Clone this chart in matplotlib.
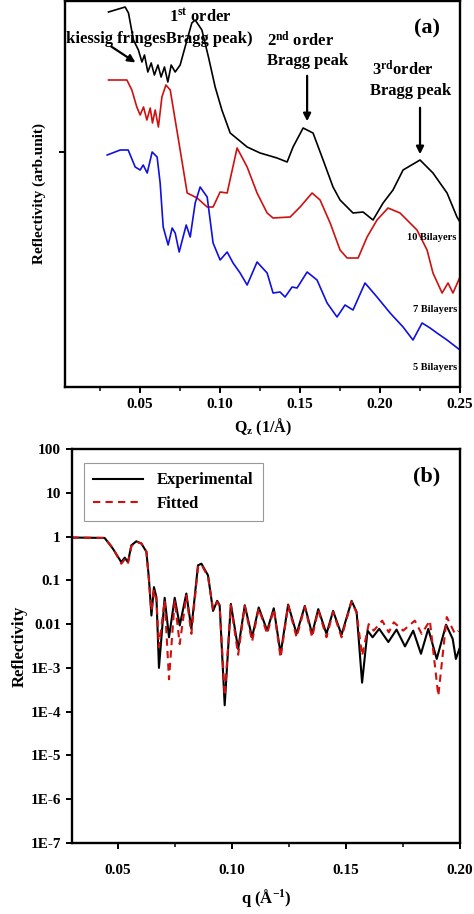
import numpy as np
import matplotlib
matplotlib.use("Agg")
import matplotlib.pyplot as plt
from matplotlib.ticker import FixedLocator, NullFormatter, LogLocator

plt.rcParams['font.family'] = ['Liberation Serif', 'DejaVu Serif']
plt.rcParams['font.weight'] = 'bold'
plt.rcParams['mathtext.fontset'] = 'custom'
plt.rcParams['mathtext.rm'] = 'Liberation Serif:bold'
plt.rcParams['mathtext.bf'] = 'Liberation Serif:bold'
plt.rcParams['mathtext.default'] = 'bf'

# ---- panel (a): reflectivity curves, arbitrary units ----
q10 = [0.0302, 0.0406, 0.0427, 0.0458, 0.0489, 0.0511, 0.0527, 0.0548, 0.0569, 0.0589,
       0.0611, 0.0631, 0.0652, 0.0673, 0.0694, 0.0719, 0.0750, 0.0781, 0.0823, 0.0844,
       0.0886, 0.0927, 0.0969, 0.1011, 0.1063, 0.1169, 0.1250, 0.1356, 0.1419, 0.1456,
       0.1519, 0.1581, 0.1644, 0.1706, 0.1750, 0.1831, 0.1894, 0.1956, 0.2019, 0.2081,
       0.2144, 0.2250, 0.2331, 0.2419, 0.2481, 0.2500]
i10 = [375, 380, 374, 347, 337, 325, 332, 315, 324, 312,
       322, 310, 320, 305, 322, 315, 322, 340, 364, 367,
       357, 330, 300, 277, 254, 240, 234, 229, 225, 240,
       259, 254, 227, 200, 187, 174, 175, 167, 184, 197,
       217, 227, 214, 194, 170, 165]

q7 = [0.0302, 0.0417, 0.0448, 0.0479, 0.0500, 0.0521, 0.0542, 0.0563, 0.0577, 0.0594,
      0.0614, 0.0636, 0.0661, 0.0688, 0.0719, 0.0750, 0.0794, 0.0856, 0.0919, 0.0956,
      0.1000, 0.1044, 0.1106, 0.1169, 0.1231, 0.1294, 0.1331, 0.1438, 0.1500, 0.1575,
      0.1625, 0.1688, 0.1750, 0.1794, 0.1863, 0.1919, 0.1981, 0.2050, 0.2125, 0.2231,
      0.2294, 0.2331, 0.2388, 0.2425, 0.2456, 0.2500]
i7 = [307, 307, 297, 280, 272, 280, 267, 279, 264, 277,
      260, 290, 302, 297, 267, 237, 194, 189, 180, 180,
      195, 194, 239, 220, 194, 174, 169, 170, 180, 194,
      187, 164, 137, 129, 129, 150, 167, 179, 174, 157,
      137, 114, 94, 104, 94, 110]

q5 = [0.0294, 0.0375, 0.0425, 0.0469, 0.0500, 0.0519, 0.0544, 0.0575, 0.0606, 0.0625,
      0.0644, 0.0675, 0.0700, 0.0719, 0.0744, 0.0788, 0.0813, 0.0844, 0.0875, 0.0919,
      0.0956, 0.1000, 0.1044, 0.1081, 0.1125, 0.1169, 0.1231, 0.1294, 0.1331, 0.1375,
      0.1406, 0.1450, 0.1481, 0.1544, 0.1606, 0.1669, 0.1731, 0.1781, 0.1831, 0.1906,
      0.1981, 0.2063, 0.2144, 0.2206, 0.2263, 0.2313, 0.2356, 0.2419, 0.2500]
i5 = [232, 237, 237, 220, 217, 222, 214, 235, 230, 204,
      160, 142, 159, 154, 135, 162, 150, 184, 200, 190,
      144, 127, 135, 124, 114, 102, 125, 114, 94, 95,
      90, 100, 99, 115, 107, 84, 70, 82, 77, 104,
      90, 74, 60, 47, 64, 59, 54, 47, 37]

# ---- panel (b): experimental and fitted reflectivity ----
exp_q = [0.0297, 0.0443, 0.0479, 0.0516, 0.0531, 0.0545, 0.0560, 0.0582, 0.0604, 0.0626,
         0.0637, 0.0648, 0.0659, 0.0670, 0.0681, 0.0706, 0.0725, 0.0750, 0.0772, 0.0801,
         0.0823, 0.0852, 0.0867, 0.0896, 0.0918, 0.0936, 0.0947, 0.0969, 0.0996, 0.1028,
         0.1057, 0.1089, 0.1118, 0.1155, 0.1184, 0.1214, 0.1247, 0.1284, 0.1320, 0.1352,
         0.1379, 0.1415, 0.1444, 0.1481, 0.1525, 0.1547, 0.1571, 0.1595, 0.1617, 0.1646,
         0.1686, 0.1722, 0.1759, 0.1795, 0.1829, 0.1861, 0.1898, 0.1939, 0.1968, 0.1982,
         0.1997]
exp_r = [0.95, 0.93, 0.53, 0.26, 0.33, 0.26, 0.63, 0.78, 0.69, 0.45,
         0.11, 0.0157, 0.070, 0.041, 0.0010, 0.040, 0.0050, 0.040, 0.0093, 0.050,
         0.0078, 0.22, 0.24, 0.13, 0.020, 0.034, 0.027, 0.00014, 0.029, 0.0027,
         0.027, 0.005, 0.024, 0.0071, 0.023, 0.0021, 0.028, 0.006, 0.026, 0.006,
         0.022, 0.006, 0.020, 0.0057, 0.034, 0.019, 0.00046, 0.0071, 0.005, 0.0078,
         0.0039, 0.0075, 0.0031, 0.0071, 0.0021, 0.0078, 0.0016, 0.0097, 0.0046, 0.0016,
         0.0027]

fit_q = [0.0297, 0.0443, 0.0479, 0.0516, 0.0531, 0.0545, 0.0560, 0.0582, 0.0604, 0.0626,
         0.0637, 0.0648, 0.0659, 0.0670, 0.0681, 0.0706, 0.0725, 0.0750, 0.0772, 0.0801,
         0.0823, 0.0852, 0.0867, 0.0896, 0.0918, 0.0936, 0.0947, 0.0969, 0.0996, 0.1028,
         0.1057, 0.1089, 0.1118, 0.1155, 0.1184, 0.1214, 0.1247, 0.1284, 0.1320, 0.1352,
         0.1379, 0.1415, 0.1444, 0.1481, 0.1525, 0.1547, 0.1571, 0.1600, 0.1622, 0.1659,
         0.1688, 0.1710, 0.1751, 0.1802, 0.1832, 0.1868, 0.1905, 0.1942, 0.1978, 0.1993]
fit_r = [0.95, 0.93, 0.55, 0.24, 0.30, 0.24, 0.60, 0.76, 0.70, 0.45,
         0.10, 0.020, 0.060, 0.035, 0.003, 0.035, 0.00055, 0.035, 0.0035, 0.045,
         0.006, 0.20, 0.23, 0.12, 0.022, 0.032, 0.026, 0.00023, 0.027, 0.002,
         0.026, 0.004, 0.023, 0.006, 0.022, 0.0017, 0.027, 0.005, 0.025, 0.005,
         0.021, 0.005, 0.019, 0.005, 0.033, 0.018, 0.0019, 0.010, 0.0071, 0.012,
         0.0065, 0.011, 0.0071, 0.012, 0.006, 0.012, 0.00023, 0.0145, 0.006, 0.007]

b_ticks = [1e-7, 1e-6, 1e-5, 1e-4, 1e-3, 0.01, 0.1, 1, 10, 100]
b_labels = ['1E-7', '1E-6', '1E-5', '1E-4', '1E-3', '0.01', '0.1', '1', '10', '100']

W, H = 474, 914
fig = plt.figure(figsize=(W / 100, H / 100), dpi=100)

def box(l, t, r, b):
    return [l / W, 1 - b / H, (r - l) / W, (b - t) / H]

def style(ax):
    for s in ax.spines.values():
        s.set_linewidth(1.7)
    ax.tick_params(which='major', direction='out', length=4, width=1.4, labelsize=11, pad=4)
    ax.tick_params(which='minor', direction='out', length=3, width=1.1)

# panel (a)
ax1 = fig.add_axes(box(65, 1, 460, 387))
ax1.plot(q10, i10, color='black', lw=1.2)
ax1.plot(q7, i7, color='#d01010', lw=1.2)
ax1.plot(q5, i5, color='#1010e0', lw=1.2)
ax1.set_xlim(0.003, 0.25)
ax1.set_ylim(0, 386)
ax1.set_xticks([0.05, 0.10, 0.15, 0.20, 0.25])
ax1.set_xticklabels(['0.05', '0.10', '0.15', '0.20', '0.25'])
ax1.xaxis.set_minor_locator(FixedLocator([0.025, 0.075, 0.125, 0.175, 0.225]))
ax1.set_yticks([235])
ax1.set_yticklabels([''])
style(ax1)
ax1.set_xlabel('Q$_z$ (1/Å)', fontsize=11.5, fontweight='bold', labelpad=4)
ax1.set_ylabel('Reflectivity (arb.unit)', fontsize=11, fontweight='bold', labelpad=6)

ax1.text(0.95, 0.93, '(a)', transform=ax1.transAxes, fontsize=16, fontweight='bold',
         ha='right', va='center')
ax1.text(0.0035, 348, 'kiessig fringesBragg peak)', fontsize=12, fontweight='bold',
         ha='left', va='center', clip_on=False)
ax1.text(0.0875, 370, '1$^{st}$ order', fontsize=12, fontweight='bold', ha='center', va='center')
ax1.annotate('', xy=(0.0485, 323), xytext=(0.0305, 342),
             arrowprops=dict(arrowstyle='-|>', color='black', lw=1.6, mutation_scale=11))
ax1.text(0.1506, 346, '2$^{nd}$ order', fontsize=12, fontweight='bold', ha='center', va='center')
ax1.text(0.1550, 326, 'Bragg peak', fontsize=12, fontweight='bold', ha='center', va='center')
ax1.annotate('', xy=(0.1544, 263), xytext=(0.1544, 314),
             arrowprops=dict(arrowstyle='-|>', color='black', lw=1.6, mutation_scale=11))
ax1.text(0.2140, 317, '3$^{rd}$order', fontsize=12, fontweight='bold', ha='center', va='center')
ax1.text(0.2194, 296, 'Bragg peak', fontsize=12, fontweight='bold', ha='center', va='center')
ax1.annotate('', xy=(0.2250, 230), xytext=(0.2250, 282),
             arrowprops=dict(arrowstyle='-|>', color='black', lw=1.6, mutation_scale=11))
ax1.text(0.248, 150, '10 Bilayers', fontsize=7.5, fontweight='bold', ha='right', va='center')
ax1.text(0.248, 77, '7 Bilayers', fontsize=7.5, fontweight='bold', ha='right', va='center')
ax1.text(0.248, 19, '5 Bilayers', fontsize=7.5, fontweight='bold', ha='right', va='center')

# panel (b)
ax2 = fig.add_axes(box(72, 449, 460, 843))
ax2.plot(exp_q, exp_r, color='black', lw=1.5, label='Experimental')
ax2.plot(fit_q, fit_r, color='#d01010', lw=1.5, ls=(0, (3.5, 2.5)), label='Fitted')
ax2.set_yscale('log')
ax2.set_xlim(0.03, 0.2)
ax2.set_ylim(1e-7, 100)
ax2.set_yticks(b_ticks)
ax2.set_yticklabels(b_labels)
ax2.yaxis.set_minor_locator(LogLocator(base=10, subs=np.arange(2, 10)))
ax2.yaxis.set_minor_formatter(NullFormatter())
ax2.set_xticks([0.05, 0.10, 0.15, 0.20])
ax2.set_xticklabels(['0.05', '0.10', '0.15', '0.20'])
ax2.xaxis.set_minor_locator(FixedLocator([0.075, 0.125, 0.175]))
style(ax2)
ax2.tick_params(axis='x', which='major', pad=11)
ax2.set_xlabel('q (Å$^{-1}$)', fontsize=12, fontweight='bold', labelpad=7)
ax2.set_ylabel('Reflectivity', fontsize=12, fontweight='bold', labelpad=2)
ax2.text(0.95, 0.93, '(b)', transform=ax2.transAxes, fontsize=16, fontweight='bold',
         ha='right', va='center')
leg = ax2.legend(loc='upper left', fontsize=12, frameon=True, fancybox=False,
                 handlelength=3.0, borderpad=0.55, labelspacing=0.45,
                 bbox_to_anchor=(0.01, 0.985))
leg.get_frame().set_edgecolor('#808080')
leg.get_frame().set_linewidth(0.8)
for t in leg.get_texts():
    t.set_fontweight('bold')

fig.savefig('out.png', dpi=100)
